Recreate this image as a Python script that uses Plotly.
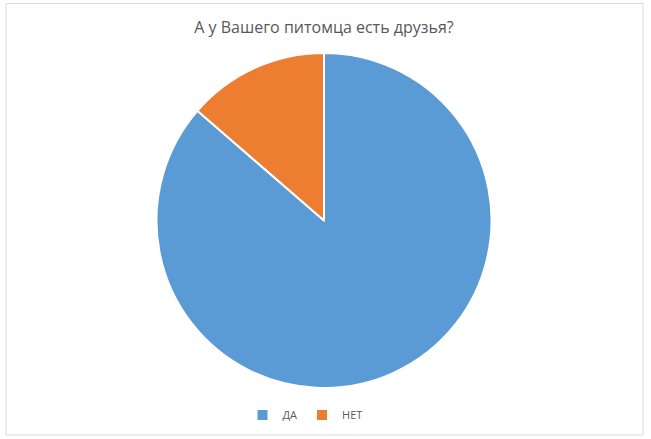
import plotly.graph_objects as go

W, H = 651, 439

title = "А у Вашего питомца есть друзья?"
labels = ["ДА", "НЕТ"]
values = [19, 3]
colors = ["#5B9BD5", "#ED7D31"]

# pie placement (pixels)
cx, cy, r = 324, 220.5, 167.5

fig = go.Figure(go.Pie(
    labels=labels, values=values,
    sort=False, direction="clockwise", rotation=0,
    marker=dict(colors=colors, line=dict(color="white", width=2)),
    textinfo="none", hoverinfo="label+value+percent",
    domain=dict(x=[(cx - r) / W, (cx + r) / W],
                y=[(H - cy - r) / H, (H - cy + r) / H]),
))

fig.update_layout(
    width=W, height=H,
    margin=dict(t=0, b=0, l=0, r=0),
    paper_bgcolor="white",
    font=dict(family="Open Sans, Liberation Sans, sans-serif", color="#595959"),
    title=dict(text=title, x=324 / W, xanchor="center", y=1 - 27 / H, yanchor="middle",
               font=dict(size=16, color="#595959")),
    showlegend=True,
    legend=dict(orientation="h", x=305 / W, xanchor="center", y=1 - 415 / H, yanchor="middle",
                font=dict(size=11, color="#595959"), itemwidth=30,
                bgcolor="rgba(0,0,0,0)"),
    shapes=[dict(type="rect", xref="paper", yref="paper",
                 x0=6 / W, x1=643 / W, y0=1 - 435 / H, y1=1 - 3.5 / H,
                 line=dict(color="#D9D9D9", width=1), fillcolor="rgba(0,0,0,0)")],
)

fig.write_html("out.html", config={"displayModeBar": False},
               post_script="document.body.style.margin='0';")
